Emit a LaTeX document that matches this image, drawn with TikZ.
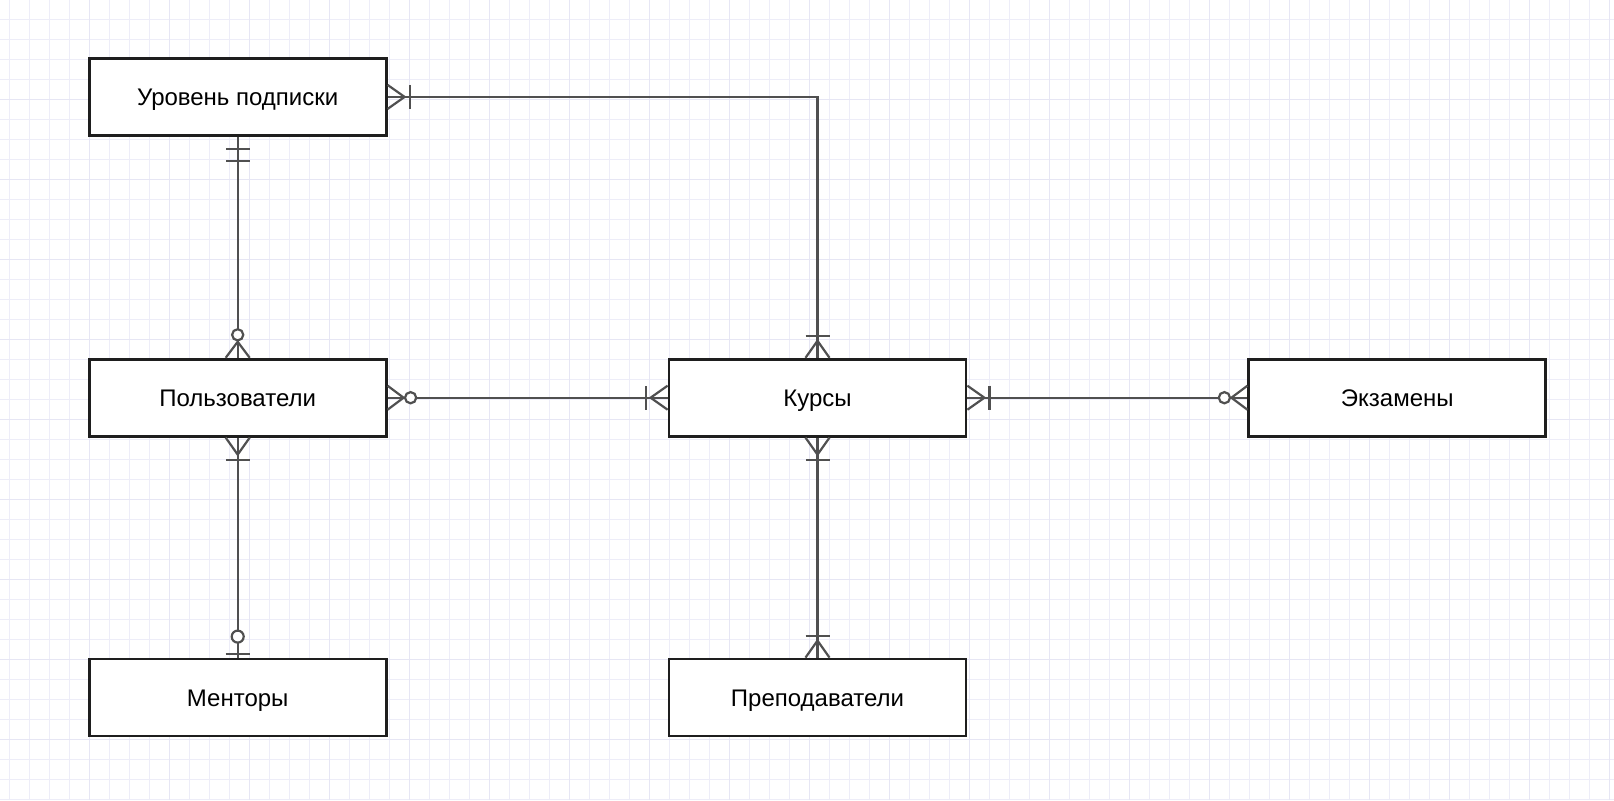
\documentclass[tikz,border=0pt]{standalone}
\usepackage{fontspec}
\setmainfont{Liberation Sans}
\usetikzlibrary{
  decorations.markings,
  positioning,
}
\definecolor{gridminor}{HTML}{EDEDF8}
\definecolor{gridmajor}{HTML}{E6E6F4}
\definecolor{linegray}{HTML}{505050}
\definecolor{boxline}{HTML}{1E1E1E}
% crow's foot ends, drawn with the box edge at the origin
\newcommand\erOneMany{%
  \draw[er mark] (0,6pt) -- (8.5pt,0) -- (0,-6pt);
  \draw[er mark] (11pt,6pt) -- (11pt,-6pt);}
\newcommand\erZeroMany{%
  \draw[er mark] (0,6pt) -- (8pt,0) -- (0,-6pt);
  \draw[er mark, fill=white] (11.5pt,0) circle (2.8pt);}
\newcommand\erOneOne{%
  \draw[er mark] (6pt,6pt) -- (6pt,-6pt);
  \draw[er mark] (12pt,6pt) -- (12pt,-6pt);}
\newcommand\erZeroOne{%
  \draw[er mark] (2pt,6pt) -- (2pt,-6pt);
  \draw[er mark, fill=white] (10.5pt,0) circle (3pt);}
\tikzset{
  entity box/.style = {
    draw=boxline,
    fill=white,
    line width=1.4pt,
    minimum width=148.5pt,
    minimum height=38.5pt,
    inner sep=0pt,
    text height=8.6pt,
    text depth=0pt,
    font=\fontsize{12}{14}\selectfont
  },
  relation line/.style = {
    draw=linegray,
    line width=1.1pt
  },
  er mark/.style = {
    draw=linegray,
    line width=1.1pt
  },
  start mark/.style = {
    postaction={decorate, decoration={markings,
      mark=at position 0 with {#1}}}
  },
  end mark/.style = {
    postaction={decorate, decoration={markings,
      mark=at position 1 with {\pgftransformrotate{180}#1}}}
  },
  grid minor/.style = {draw=gridminor, line width=0.5pt},
  grid major/.style = {draw=gridmajor, line width=0.5pt},
}
\begin{document}
\begin{tikzpicture}[x=0.5pt, y=-0.5pt, node distance=110pt and 140pt]
  %% background grid
  \fill[white] (0,0) rectangle (1614,800);
  \useasboundingbox (0,0) rectangle (1614,800);
  \foreach \gx in {9,29,...,1609} \draw[grid minor] (\gx,0) -- (\gx,800);
  \foreach \gy in {19,39,...,799} \draw[grid minor] (0,\gy) -- (1614,\gy);
  \foreach \gx in {89,169,...,1609} \draw[grid major] (\gx,0) -- (\gx,800);
  \foreach \gy in {99,179,...,799} \draw[grid major] (0,\gy) -- (1614,\gy);
  %% entities
  \node[entity box] (users) at (237.7,397.7) {Пользователи};
  \node[entity box, above=110.5pt of users] (level) {Уровень подписки};
  \node[entity box, below=of users] (mentors) {Менторы};
  \node[entity box, right=of users] (courses) {Курсы};
  \node[entity box, right=of courses] (exams) {Экзамены};
  \node[entity box, below=of courses] (teachers) {Преподаватели};
  %% relations
  \draw[relation line, start mark=\erOneMany, end mark=\erOneMany]
    (level.east) -| (courses.north);
  \draw[relation line, start mark=\erOneOne, end mark=\erZeroMany]
    (level.south) -- (users.north);
  \draw[relation line, start mark=\erZeroMany, end mark=\erOneMany]
    (users.east) -- (courses.west);
  \draw[relation line, start mark=\erOneMany, end mark=\erZeroMany]
    (courses.east) -- (exams.west);
  \draw[relation line, start mark=\erOneMany, end mark=\erOneMany]
    (courses.south) -- (teachers.north);
  \draw[relation line, start mark=\erOneMany, end mark=\erZeroOne]
    (users.south) -- (mentors.north);
\end{tikzpicture}
\end{document}
